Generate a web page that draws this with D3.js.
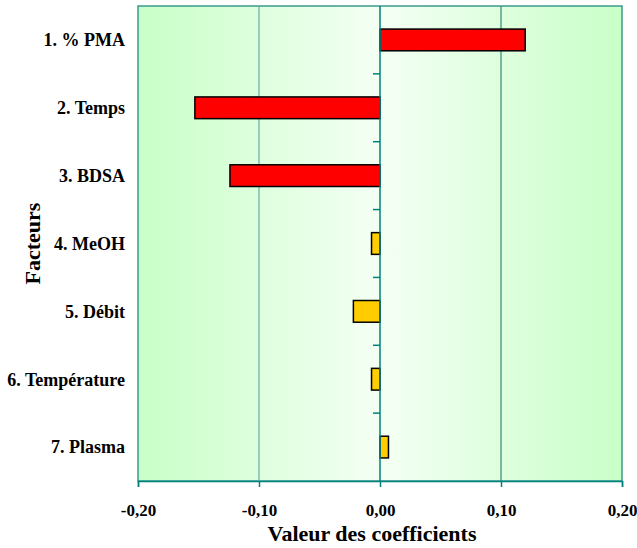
<!DOCTYPE html>
<html><head><meta charset="utf-8">
<script src="https://cdn.jsdelivr.net/npm/d3@7"></script>
<style>body{margin:0;background:#fff}svg{display:block}</style>
</head><body>
<svg id="chart" width="637" height="548"></svg>
<script>
const categories = ["1. % PMA","2. Temps","3. BDSA","4. MeOH","5. Débit","6. Température","7. Plasma"];
const values = [0.120, -0.153, -0.124, -0.007, -0.022, -0.007, 0.007];
const barColors = ["#FF0000","#FF0000","#FF0000","#FFCC00","#FFCC00","#FFCC00","#FFCC00"];
const xTicks = [-0.20, -0.10, 0.00, 0.10, 0.20];
const xTitle = "Valeur des coefficients";
const yTitle = "Facteurs";

const svg = d3.select("#chart");
const m = {left:138, right:15, top:6, bottom:67};
const W = 637, H = 548;
const x = d3.scaleLinear().domain([-0.2,0.2]).range([m.left, W-m.right]);
const y = d3.scaleBand().domain(categories).range([m.top, H-m.bottom]).paddingInner(0.68).paddingOuter(0.34);
const font = "Liberation Serif, Times New Roman, Times, DejaVu Serif, serif";

const defs = svg.append("defs");
const g = defs.append("linearGradient").attr("id","bg").attr("x1","0").attr("x2","1").attr("y1","0").attr("y2","0");
g.append("stop").attr("offset","0%").attr("stop-color","#C8FFC8");
g.append("stop").attr("offset","50%").attr("stop-color","#F4FFF4");
g.append("stop").attr("offset","100%").attr("stop-color","#C8FFC8");

svg.append("rect").attr("x",x(-0.2)).attr("y",m.top).attr("width",x(0.2)-x(-0.2)).attr("height",H-m.bottom-m.top)
  .attr("fill","url(#bg)").attr("stroke","#3A9A8C").attr("stroke-width",1.5);

svg.append("g").selectAll("line").data([-0.1,0.1]).join("line")
  .attr("x1",d=>x(d)).attr("x2",d=>x(d)).attr("y1",m.top).attr("y2",H-m.bottom)
  .attr("stroke",d=>d<0?"#5BB0A4":"#2E8A7C").attr("stroke-width",1.2);

svg.append("g").selectAll("rect").data(values).join("rect")
  .attr("x",d=>x(Math.min(0,d))).attr("width",d=>Math.abs(x(d)-x(0)))
  .attr("y",(d,i)=>y(categories[i])).attr("height",y.bandwidth())
  .attr("fill",(d,i)=>barColors[i]).attr("stroke","#000").attr("stroke-width",1.5);

const bounds = d3.range(1,categories.length).map(i=>y(categories[i]) - y.step()*y.paddingInner()/2);
svg.append("line").attr("x1",x(0)).attr("x2",x(0)).attr("y1",m.top).attr("y2",H-m.bottom).attr("stroke","#008080").attr("stroke-width",1.5);
svg.append("g").selectAll("line").data(bounds).join("line")
  .attr("x1",x(0)-7).attr("x2",x(0)).attr("y1",d=>d).attr("y2",d=>d).attr("stroke","#008080").attr("stroke-width",1.5);

const xAxis = svg.append("g").attr("transform",`translate(0,${H-m.bottom})`)
  .call(d3.axisBottom(x).tickValues(xTicks).tickSize(6).tickPadding(17).tickFormat(d=>d3.format(".2f")(d).replace(".",",").replace("\u2212","-")));
xAxis.attr("font-family",null).attr("font-size",null);
xAxis.select(".domain").attr("stroke","#008080").attr("stroke-width",1.5);
xAxis.selectAll(".tick line").attr("stroke","#008080").attr("stroke-width",1.5);
xAxis.selectAll("text").style("font-family",font).attr("font-size",17).attr("font-weight","bold").attr("fill","#000");

svg.append("g").selectAll("text").data(categories).join("text")
  .attr("x",125).attr("y",d=>y(d)+y.bandwidth()/2).attr("dy","0.35em").attr("text-anchor","end")
  .style("font-family",font).attr("font-size",18).attr("font-weight","bold").text(d=>d);

svg.append("text").attr("x",x(0)-8).attr("y",541).attr("text-anchor","middle")
  .style("font-family",font).attr("font-size",22).attr("font-weight","bold").text(xTitle);
svg.append("text").attr("transform",`translate(40,${(m.top+H-m.bottom)/2}) rotate(-90)`).attr("text-anchor","middle")
  .style("font-family",font).attr("font-size",22).attr("font-weight","bold").text(yTitle);
</script>
</body></html>
